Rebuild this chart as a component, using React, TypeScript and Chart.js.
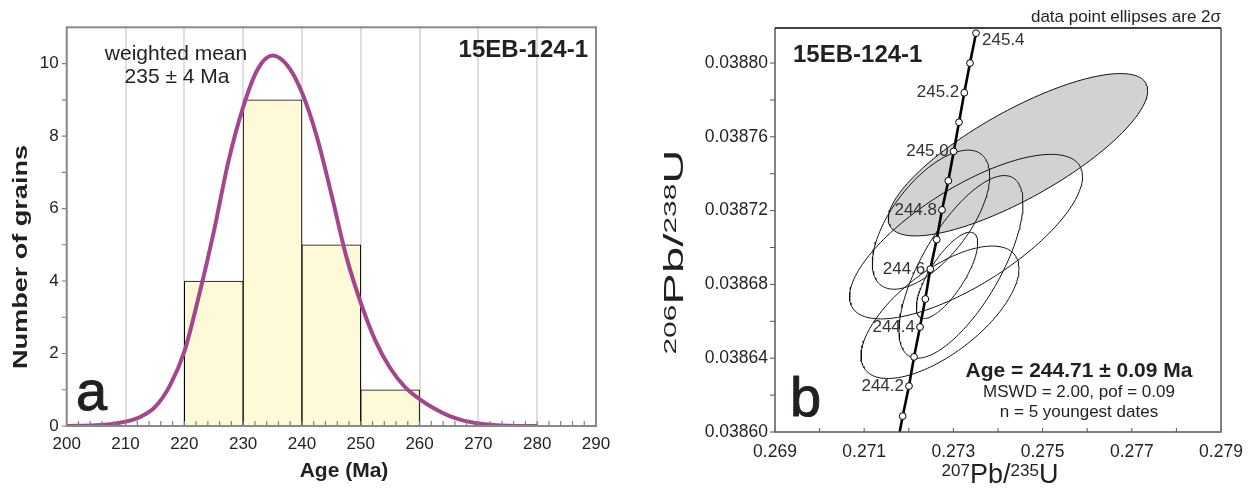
import React, { useEffect, useRef } from "react";
import { Chart, registerables } from "chart.js";
Chart.register(...registerables);

const FONT = "'Liberation Sans', Arial, Helvetica, sans-serif";
const INK = "#231f20";

// ---------- Panel a: histogram + probability curve ----------
const binCenters = [225, 235, 245, 255];
const binCounts = [4, 9, 5, 1];
const curveAges = [200, 205, 207.5, 210, 212.5, 215, 217.5, 220, 222.5, 225, 227.5, 230, 232.5, 235, 237.5, 240, 242.5, 245, 247.5, 250, 252.5, 255, 257.5, 260, 262.5, 265, 267.5, 270, 272.5, 275, 280];
const curveDensity = [0, 0.02, 0.05, 0.12, 0.25, 0.52, 1.1, 2.05, 3.6, 5.35, 7.3, 8.8, 9.85, 10.22, 9.95, 9.2, 8.0, 6.4, 4.7, 3.4, 2.35, 1.6, 1.08, 0.74, 0.48, 0.28, 0.15, 0.07, 0.03, 0.01, 0];
const ageTicks = [200, 210, 220, 230, 240, 250, 260, 270, 280, 290];
const countTicks = [0, 2, 4, 6, 8, 10];

// ---------- Panel b: concordia ----------
const concordiaAges = [244.0, 244.1, 244.2, 244.3, 244.4, 244.5, 244.6, 244.7, 244.8, 244.9, 245.0, 245.1, 245.2, 245.3, 245.4];
const concordiaX = [0.271736, 0.271863, 0.272004, 0.272117, 0.272251, 0.27237, 0.272482, 0.272626, 0.272744, 0.272886, 0.273007, 0.273126, 0.273244, 0.273372, 0.273507];
const concordiaY = [0.0385926, 0.0386086, 0.0386249, 0.0386407, 0.0386569, 0.0386721, 0.0386883, 0.0387043, 0.0387204, 0.0387362, 0.0387521, 0.0387679, 0.0387839, 0.0388, 0.0388162];
const labelledAges = [244.2, 244.4, 244.6, 244.8, 245.0, 245.2, 245.4];

// 2-sigma error ellipses: centre, 2σ half-widths, correlation
const ellCx = [0.274448, 0.273283, 0.272498, 0.27317, 0.272857, 0.2727];
const ellCy = [0.0387503, 0.0387059, 0.0387151, 0.0386895, 0.0386849, 0.0386649];
const ell2sx = [0.002908, 0.002612, 0.001316, 0.00139, 0.000688, 0.001771];
const ell2sy = [0.000044, 0.0000446, 0.0000377, 0.0000495, 0.0000234, 0.0000359];
const ellRho = [0.79, 0.73, 0.63, 0.7, 0.75, 0.66];
const ellFilled = [true, false, false, false, false, false];

const ratio207Ticks = [0.269, 0.271, 0.273, 0.275, 0.277, 0.279];
const ratio206Ticks = [0.0386, 0.03864, 0.03868, 0.03872, 0.03876, 0.0388];

function ellipsePoints(i: number) {
  const pts: { x: number; y: number }[] = [];
  const n = 160;
  const s = Math.sqrt(1 - ellRho[i] * ellRho[i]);
  for (let k = 0; k <= n; k++) {
    const t = (2 * Math.PI * k) / n;
    pts.push({
      x: ellCx[i] + ell2sx[i] * Math.cos(t),
      y: ellCy[i] + ell2sy[i] * (ellRho[i] * Math.cos(t) + s * Math.sin(t)),
    });
  }
  return pts;
}

function txt(ctx: CanvasRenderingContext2D, s: string, x: number, y: number, size: number, bold: boolean, align: CanvasTextAlign, baseline: CanvasTextBaseline = "middle", color = INK, outline = 0) {
  ctx.font = `${bold ? "bold " : ""}${size}px ${FONT}`;
  ctx.fillStyle = color;
  ctx.textAlign = align;
  ctx.textBaseline = baseline;
  ctx.fillText(s, x, y);
  if (outline > 0) {
    ctx.strokeStyle = color;
    ctx.lineWidth = outline;
    ctx.lineJoin = "round";
    ctx.strokeText(s, x, y);
  }
}

function rich(ctx: CanvasRenderingContext2D, parts: { t: string; sup?: boolean }[], cx: number, cy: number, big: number, small: number, rotate: boolean, length?: number, bold = false) {
  ctx.save();
  ctx.translate(cx, cy);
  if (rotate) ctx.rotate(-Math.PI / 2);
  const w = parts.map((p) => {
    ctx.font = `${bold ? "bold " : ""}${p.sup ? small : big}px ${FONT}`;
    return ctx.measureText(p.t).width;
  });
  const total = w.reduce((a, b) => a + b, 0);
  if (length) ctx.scale(length / total, 1);
  let x = -total / 2;
  const base = (big * 0.716) / 2;
  ctx.fillStyle = INK;
  ctx.textAlign = "left";
  ctx.textBaseline = "alphabetic";
  parts.forEach((p, i) => {
    ctx.font = `${bold ? "bold " : ""}${p.sup ? small : big}px ${FONT}`;
    ctx.fillText(p.t, x, p.sup ? base - 0.716 * (big - small) : base);
    x += w[i];
  });
  ctx.restore();
}

const panelAPlugin = {
  id: "panelA",
  afterDatasetsDraw(chart: any) {
    const { ctx, chartArea: ca, scales } = chart;
    const x = scales.x, y = scales.y;
    ctx.save();
    ctx.strokeStyle = "#808080";
    ctx.lineWidth = 1.2;
    ctx.beginPath();
    for (let v = 0; v <= 10; v++) {
      const py = y.getPixelForValue(v);
      ctx.moveTo(ca.left - 5, py);
      ctx.lineTo(ca.left, py);
    }
    for (let v = 202; v < 290; v += 2) {
      const px = x.getPixelForValue(v);
      ctx.moveTo(px, ca.bottom);
      ctx.lineTo(px, ca.bottom - 5);
    }
    ctx.stroke();
    ctx.strokeStyle = "#8a8a8a";
    ctx.lineWidth = 2;
    ctx.strokeRect(ca.left, ca.top, ca.right - ca.left, ca.bottom - ca.top);

    txt(ctx, "weighted mean", 176, 54, 21, false, "center");
    txt(ctx, "235 ± 4 Ma", 177, 77, 21, false, "center");
    txt(ctx, "15EB-124-1", 588, 50, 24, true, "right");
    txt(ctx, "a", 76, 410, 56, false, "left", "alphabetic", INK, 1);
    txt(ctx, "Age (Ma)", 344, 471, 21, true, "center");
    rich(ctx, [{ t: "Number of grains" }], 20, 257, 20, 20, true, 224, true);
    ctx.restore();
  },
};

const OFFB = 630;
const panelBPlugin = {
  id: "panelB",
  afterDatasetsDraw(chart: any) {
    const { ctx, chartArea: ca, scales } = chart;
    const x = scales.x, y = scales.y;
    ctx.save();
    // ticks
    ctx.strokeStyle = "#555";
    ctx.lineWidth = 1;
    ctx.beginPath();
    for (let k = 0; k <= 10; k++) {
      const py = y.getPixelForValue(0.0386 + k * 0.00002);
      ctx.moveTo(ca.left - 5, py);
      ctx.lineTo(ca.left, py);
    }
    for (let k = 1; k < 10; k++) {
      const px = x.getPixelForValue(0.269 + k * 0.001);
      ctx.moveTo(px, ca.bottom);
      ctx.lineTo(px, ca.bottom - 4);
    }
    ctx.stroke();
    // frame
    ctx.lineWidth = 1.5;
    ctx.strokeStyle = "#5a5a5a";
    ctx.beginPath();
    ctx.moveTo(ca.left, ca.top);
    ctx.lineTo(ca.left, ca.bottom);
    ctx.lineTo(ca.right, ca.bottom);
    ctx.lineTo(ca.right, ca.top);
    ctx.stroke();
    ctx.strokeStyle = "#000";
    ctx.beginPath();
    ctx.moveTo(ca.left, ca.top);
    ctx.lineTo(ca.right, ca.top);
    ctx.stroke();

    // concordia age labels
    labelledAges.forEach((age) => {
      const i = concordiaAges.findIndex((a) => Math.abs(a - age) < 1e-6);
      const px = x.getPixelForValue(concordiaX[i]);
      const py = y.getPixelForValue(concordiaY[i]);
      if (age > 245.3) txt(ctx, age.toFixed(1), px + 6, py + 7, 17, false, "left", "middle", "#333");
      else txt(ctx, age.toFixed(1), px - 5, py, 17, false, "right", "middle", "#333");
    });

    txt(ctx, "data point ellipses are 2σ", 1221 - OFFB, 17, 17, false, "right");
    txt(ctx, "15EB-124-1", 793 - OFFB, 55, 24, true, "left");
    txt(ctx, "Age = 244.71 ± 0.09 Ma", 1079 - OFFB, 371, 21, true, "center");
    txt(ctx, "MSWD = 2.00, pof = 0.09", 1079 - OFFB, 392, 17, false, "center");
    txt(ctx, "n = 5 youngest dates", 1079 - OFFB, 412, 17, false, "center");
    txt(ctx, "b", 790 - OFFB, 416, 56, false, "left", "alphabetic", INK, 1);
    rich(ctx, [{ t: "207", sup: true }, { t: "Pb/" }, { t: "235", sup: true }, { t: "U" }], 1000 - OFFB, 473, 27, 17, false);
    rich(ctx, [{ t: "206", sup: true }, { t: "Pb/" }, { t: "238", sup: true }, { t: "U" }], 673 - OFFB, 252, 27, 17, true, 205);
    ctx.restore();
  },
};

export default function App() {
  const refA = useRef<HTMLCanvasElement>(null);
  const refB = useRef<HTMLCanvasElement>(null);

  useEffect(() => {
    const tickFont = { family: FONT, size: 17 };
    const chartA = new Chart(refA.current as HTMLCanvasElement, {
      type: "bar",
      data: {
        datasets: [
          {
            type: "line",
            data: curveAges.map((a, i) => ({ x: a, y: curveDensity[i] })),
            borderColor: "#a4468e",
            borderWidth: 4,
            pointRadius: 0,
            cubicInterpolationMode: "monotone",
            fill: false,
            order: 0,
          } as any,
          {
            type: "bar",
            data: binCenters.map((c, i) => ({ x: c, y: binCounts[i] })),
            backgroundColor: "#fef9d6",
            borderColor: "#000",
            borderWidth: 1,
            borderSkipped: false,
            barPercentage: 1,
            categoryPercentage: 1,
            order: 1,
          } as any,
        ],
      },
      options: {
        responsive: false,
        animation: false,
        devicePixelRatio: 1,
        events: [],
        layout: { padding: { left: 0, top: 27.3, right: 34, bottom: 0 } },
        plugins: { legend: { display: false }, tooltip: { enabled: false } },
        scales: {
          x: {
            type: "linear",
            min: 200,
            max: 290,
            offset: false,
            afterBuildTicks: (s: any) => { s.ticks = ageTicks.map((v) => ({ value: v })); },
            ticks: { font: tickFont, color: INK, padding: 8, maxRotation: 0, autoSkip: false, callback: (v: any) => String(v) },
            grid: { display: true, drawTicks: false, color: "#dfdfdf", lineWidth: 2, offset: false },
            border: { display: false },
            afterFit: (s: any) => { s.height = 66; },
          } as any,
          y: {
            type: "linear",
            min: 0,
            max: 11,
            afterBuildTicks: (s: any) => { s.ticks = countTicks.map((v) => ({ value: v })); },
            ticks: { font: tickFont, color: INK, padding: 8, callback: (v: any) => String(v) },
            grid: { display: false, drawTicks: false },
            border: { display: false },
            afterFit: (s: any) => { s.width = 66.7; },
          } as any,
        },
      },
      plugins: [panelAPlugin],
    });

    const ellDatasets = ellCx.map((_, i) => ({
      data: ellipsePoints(i),
      showLine: true,
      pointRadius: 0,
      borderColor: "#111",
      borderWidth: 1,
      backgroundColor: ellFilled[i] ? "#d1d2d4" : "transparent",
      fill: ellFilled[i] ? "shape" : false,
      tension: 0,
      order: ellFilled[i] ? 3 : 2,
    }));

    const chartB = new Chart(refB.current as HTMLCanvasElement, {
      type: "scatter",
      data: {
        datasets: [
          {
            data: concordiaAges.map((_, i) => ({ x: concordiaX[i], y: concordiaY[i] })),
            showLine: true,
            borderColor: "#000",
            borderWidth: 2.6,
            pointRadius: concordiaAges.map((a) => (a < 244.05 ? 0 : 3.4)),
            pointBackgroundColor: "#fff",
            pointBorderColor: "#000",
            pointBorderWidth: 1,
            clip: { left: false, right: false, top: 6, bottom: 0 },
            order: 0,
          } as any,
          ...(ellDatasets as any[]),
        ],
      },
      options: {
        responsive: false,
        animation: false,
        devicePixelRatio: 1,
        events: [],
        layout: { padding: { left: 0, top: 28, right: 34, bottom: 0 } },
        plugins: { legend: { display: false }, tooltip: { enabled: false } },
        scales: {
          x: {
            type: "linear",
            min: 0.269,
            max: 0.279,
            afterBuildTicks: (s: any) => { s.ticks = ratio207Ticks.map((v) => ({ value: v })); },
            ticks: { font: { family: FONT, size: 17.5 }, color: INK, padding: 9.5, maxRotation: 0, autoSkip: false, callback: (v: any) => Number(v).toFixed(3) },
            grid: { display: false, drawTicks: false },
            border: { display: false },
            afterFit: (s: any) => { s.height = 60; },
          } as any,
          y: {
            type: "linear",
            min: 0.0386,
            max: 0.038819,
            afterBuildTicks: (s: any) => { s.ticks = ratio206Ticks.map((v) => ({ value: v })); },
            ticks: { font: { family: FONT, size: 17.5 }, color: INK, padding: 7, autoSkip: false, callback: (v: any) => Number(v).toFixed(5) },
            grid: { display: false, drawTicks: false },
            border: { display: false },
            afterFit: (s: any) => { s.width = 145; },
          } as any,
        },
      },
      plugins: [panelBPlugin],
    });

    return () => {
      chartA.destroy();
      chartB.destroy();
    };
  }, []);

  return (
    <div style={{ position: "absolute", left: 0, top: 0, width: 1255, height: 492, background: "#fff", overflow: "hidden" }}>
      <canvas ref={refA} width={630} height={492} style={{ position: "absolute", left: 0, top: 0, width: 630, height: 492 }} />
      <canvas ref={refB} width={625} height={492} style={{ position: "absolute", left: 630, top: 0, width: 625, height: 492 }} />
    </div>
  );
}
